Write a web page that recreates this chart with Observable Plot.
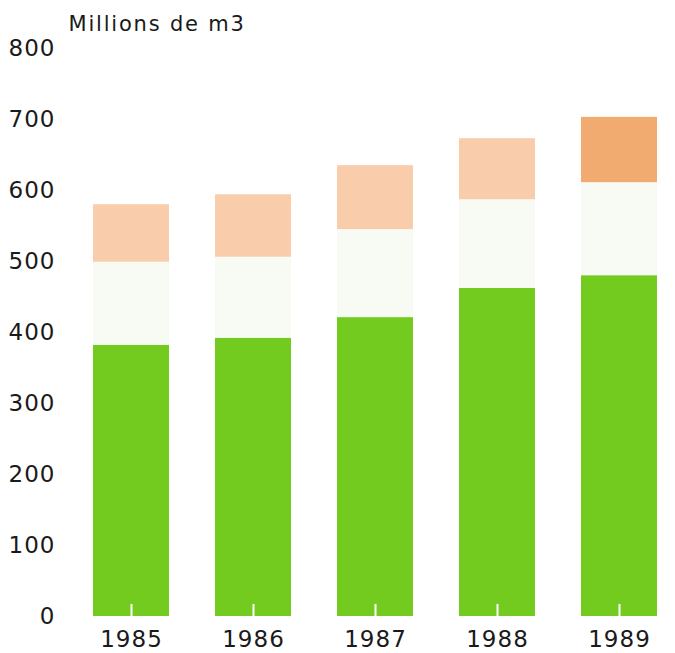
<!DOCTYPE html>
<html>
<head>
<meta charset="utf-8">
<script src="https://cdn.jsdelivr.net/npm/d3@7"></script>
<script src="https://cdn.jsdelivr.net/npm/@observablehq/plot@0.6"></script>
<style>
  html, body { margin: 0; padding: 0; background: #ffffff; }
  svg { display: block; }
</style>
</head>
<body>
<div id="chart"></div>
<script>
// Data (millions de m3)
const years = ["1985", "1986", "1987", "1988", "1989"];
const greenPart = [382, 392, 421, 462, 480];   // solid green segment
const palePart  = [117, 114, 124, 125, 131];   // very pale green segment
const orangePart = [81, 88, 90, 86, 92];       // orange segment on top
const yTicks = [0, 100, 200, 300, 400, 500, 600, 700, 800];
const unitLabel = "Millions de m3";

const colors = {
  green: "#73cb1f",
  pale: "#f7fbf3",
  orange: "#f9cdab",
  orangeDark: "#f1ab70"
};

const rows = [];
years.forEach((yr, i) => {
  rows.push({year: yr, part: "green", value: greenPart[i], color: colors.green});
  rows.push({year: yr, part: "pale", value: palePart[i], color: colors.pale});
  rows.push({year: yr, part: "orange", value: orangePart[i], color: yr === "1989" ? colors.orangeDark : colors.orange});
});

const font = "'DejaVu Sans', sans-serif";

const chart = Plot.plot({
  width: 675,
  height: 653,
  marginTop: 48,
  marginBottom: 37,
  marginLeft: 80,
  marginRight: 6,
  style: {fontFamily: font, fontSize: "23px", color: "#1a1a1a", background: "#ffffff"},
  x: {domain: years, paddingInner: 0.38, paddingOuter: 0.09, label: null},
  y: {domain: [0, 800], ticks: yTicks, label: null},
  marks: [
    Plot.barY(rows, {x: "year", y: "value", fill: "color", order: ["green", "pale", "orange"], z: "part"}),
    Plot.ruleX(years, {x: d => d, y1: 0, y2: 17, stroke: "#ffffff", strokeWidth: 2}),
    Plot.axisY({ticks: yTicks, tickSize: 0, tickPadding: 25, fontSize: 23, label: null}),
    Plot.axisX({tickSize: 0, tickPadding: 14, fontSize: 23, label: null}),
    Plot.text([unitLabel], {frameAnchor: "top-left", text: d => d, dx: -12, dy: -18, textAnchor: "start", lineAnchor: "bottom", fontSize: 21, fill: "#1a1a1a"})
  ]
});

chart.querySelectorAll("text").forEach(t => t.style.letterSpacing = "1px");
const title = Array.from(chart.querySelectorAll("text")).find(t => t.textContent === unitLabel);
if (title) title.style.letterSpacing = "1.8px";
document.getElementById("chart").appendChild(chart);
</script>
</body>
</html>
